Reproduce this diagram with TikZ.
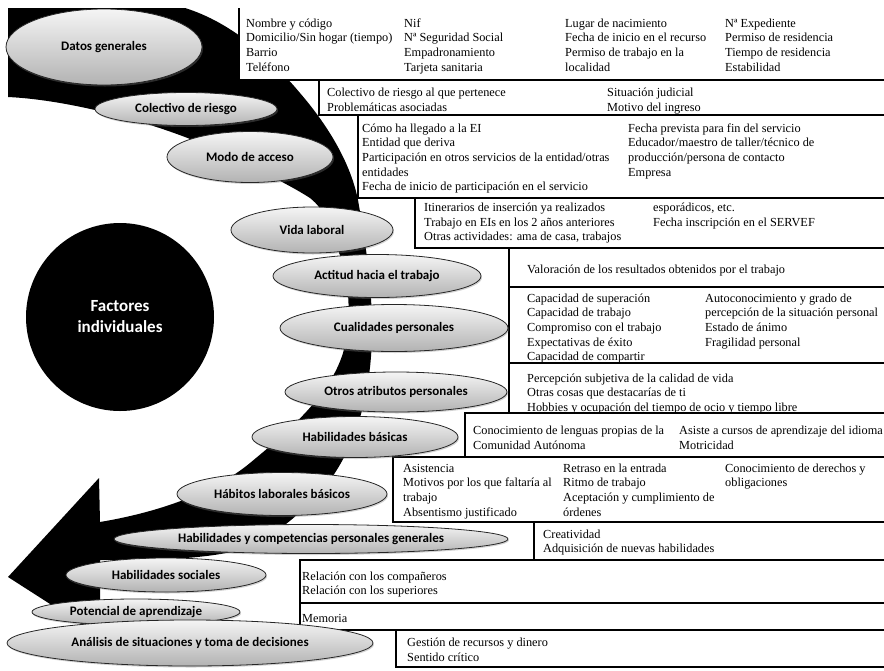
\documentclass[tikz,border=0pt]{standalone}
\usepackage{fontspec}
\setmainfont{Liberation Serif}
\newfontfamily\labfont{Carlito}
\usetikzlibrary{shapes.geometric,shadows}
\begin{document}
\begin{tikzpicture}[x=1pt,y=-1pt,
  panel/.style={draw=black,line width=2pt,fill=white},
  col/.style={anchor=north west,inner sep=0pt,align=left,font=\fontsize{12.3}{14.7}\selectfont},
  oval/.style={ellipse,draw=black!85,line width=0.8pt,inner sep=0pt,
    top color=gray!8,bottom color=gray!60,
    drop shadow={shadow xshift=1pt,shadow yshift=-1.5pt,opacity=0.35},
    font=\labfont\bfseries\fontsize{13}{15}\selectfont},
  hub/.style={circle,fill=black,text=white,align=center,inner sep=0pt,
    font=\labfont\bfseries\fontsize{17}{21}\selectfont}]
\useasboundingbox (0,0) rectangle (884,670);
\clip (0,0) rectangle (884,670);

% curved band ending in a left-pointing arrowhead
\fill[black] (8,8) -- (185,8)
  .. controls (230,22) and (268,55) .. (300,93)
  .. controls (325,122) and (350,160) .. (358,200)
  .. controls (364,235) and (372,280) .. (372,330)
  .. controls (372,400) and (352,450) .. (330,480)
  .. controls (310,505) and (280,535) .. (240,550)
  .. controls (200,560) and (150,560) .. (100,560)
  -- (100,636) -- (8,577) -- (99,478) -- (100,522)
  .. controls (160,512) and (215,492) .. (250,463)
  .. controls (290,430) and (330,395) .. (343,353)
  .. controls (352,320) and (350,280) .. (338,250)
  .. controls (330,225) and (325,210) .. (310,198)
  .. controls (290,185) and (250,165) .. (200,143)
  .. controls (150,122) and (70,100) .. (8,97) -- cycle;

% hub
\node[hub,minimum size=188pt] (fi) at (120,317) {Factores\\individuales};

% detail panels
\fill[white] (239,8) rectangle (900,80);
\draw[line width=2pt] (239,8) -- (239,80) -- (900,80);
\draw[panel] (319,80) rectangle (900,115);
\draw[panel] (358,115) rectangle (900,198);
\draw[panel] (415,198) rectangle (900,248);
\draw[panel] (509,248) rectangle (900,287);
\draw[panel] (509,287) rectangle (900,363);
\draw[panel] (509,363) rectangle (900,413);
\draw[panel] (465,413) rectangle (900,457);
\draw[panel] (393,457) rectangle (900,522);
\draw[panel] (534,522) rectangle (900,560);
\draw[panel] (300,560) rectangle (900,603);
\draw[panel] (300,603) rectangle (900,630);
\draw[panel] (396,630) rectangle (900,667);

% panel texts
\node[col] (t1a) at (246,16.6) {\strut Nombre y código\\Domicilio/Sin hogar (tiempo)\\Barrio\\Teléfono};
\node[col] (t1b) at (404,16.6) {\strut Nif\\Nª Seguridad Social\\Empadronamiento\\Tarjeta sanitaria};
\node[col] (t1c) at (565,16.6) {\strut Lugar de nacimiento\\Fecha de inicio en el recurso\\Permiso de trabajo en la\\localidad};
\node[col] (t1d) at (725,16.6) {\strut Nª Expediente\\Permiso de residencia\\Tiempo de residencia\\Estabilidad};

\node[col] (t2a) at (327,86.1) {\strut Colectivo de riesgo al que pertenece\\Problemáticas asociadas};
\node[col] (t2b) at (607,86.1) {\strut Situación judicial\\Motivo del ingreso};

\node[col] (t3a) at (362,121.6) {\strut Cómo ha llegado a la EI\\Entidad que deriva\\Participación en otros servicios de la entidad/otras\\entidades\\Fecha de inicio de participación en el servicio};
\node[col] (t3b) at (628,121.6) {\strut Fecha prevista para fin del servicio\\Educador/maestro de taller/técnico de\\producción/persona de contacto\\Empresa};

\node[col] (t4a) at (424,201.1) {\strut Itinerarios de inserción ya realizados\\Trabajo en EIs en los 2 años anteriores\\Otras actividades: ama de casa, trabajos};
\node[col] (t4b) at (653,201.1) {\strut esporádicos, etc.\\Fecha inscripción en el SERVEF};

\node[col] (t5a) at (527,262.6) {\strut Valoración de los resultados obtenidos por el trabajo};

\node[col] (t6a) at (527,291.6) {\strut Capacidad de superación\\Capacidad de trabajo\\Compromiso con el trabajo\\Expectativas de éxito\\Capacidad de compartir};
\node[col] (t6b) at (705,291.6) {\strut Autoconocimiento y grado de\\percepción de la situación personal\\Estado de ánimo\\Fragilidad personal};

\node[col] (t7a) at (527,371.6) {\strut Percepción subjetiva de la calidad de vida\\Otras cosas que destacarías de ti\\Hobbies y ocupación del tiempo de ocio y tiempo libre};

\node[col] (t8a) at (473,424.1) {\strut Conocimiento de lenguas propias de la\\Comunidad Autónoma};
\node[col] (t8b) at (679,424.1) {\strut Asiste a cursos de aprendizaje del idioma\\Motricidad};

\node[col] (t9a) at (403,461.6) {\strut Asistencia\\Motivos por los que faltaría al\\trabajo\\Absentismo justificado};
\node[col] (t9b) at (563,461.6) {\strut Retraso en la entrada\\Ritmo de trabajo\\Aceptación y cumplimiento de\\órdenes};
\node[col] (t9c) at (725,461.6) {\strut Conocimiento de derechos y\\obligaciones};

\node[col] (t10a) at (543,527.6) {\strut Creatividad\\Adquisición de nuevas habilidades};
\node[col] (t11a) at (302,569.6) {\strut Relación con los compañeros\\Relación con los superiores};
\node[col] (t12a) at (302,611.6) {\strut Memoria};
\node[col] (t13a) at (407,636.1) {\strut Gestión de recursos y dinero\\Sentido crítico};

% factor ovals
\node[oval,minimum width=196pt,minimum height=76pt] (e1) at (104,47) {Datos generales};
\node[oval,minimum width=182pt,minimum height=33pt] (e2) at (186,109) {Colectivo de riesgo};
\node[oval,minimum width=166pt,minimum height=51pt] (e3) at (250,157) {Modo de acceso};
\node[oval,minimum width=162pt,minimum height=46pt] (e4) at (312,230) {Vida laboral};
\node[oval,minimum width=208pt,minimum height=43pt] (e5) at (377,276) {Actitud hacia el trabajo};
\node[oval,minimum width=228pt,minimum height=47pt] (e6) at (394,328) {Cualidades personales};
\node[oval,minimum width=222pt,minimum height=40pt] (e7) at (396,392) {Otros atributos personales};
\node[oval,minimum width=206pt,minimum height=41pt] (e8) at (355,437) {Habilidades básicas};
\node[oval,minimum width=210pt,minimum height=43pt] (e9) at (282,494) {Hábitos laborales básicos};
\node[oval,minimum width=394pt,minimum height=29pt] (e10) at (311,539) {Habilidades y competencias personales generales};
\node[oval,minimum width=200pt,minimum height=34pt] (e11) at (166,575) {Habilidades sociales};
\node[oval,minimum width=208pt,minimum height=26pt] (e12) at (136,612) {Potencial de aprendizaje};
\node[oval,minimum width=366pt,minimum height=46pt] (e13) at (190,643) {Análisis de situaciones y toma de decisiones};
\end{tikzpicture}
\end{document}
